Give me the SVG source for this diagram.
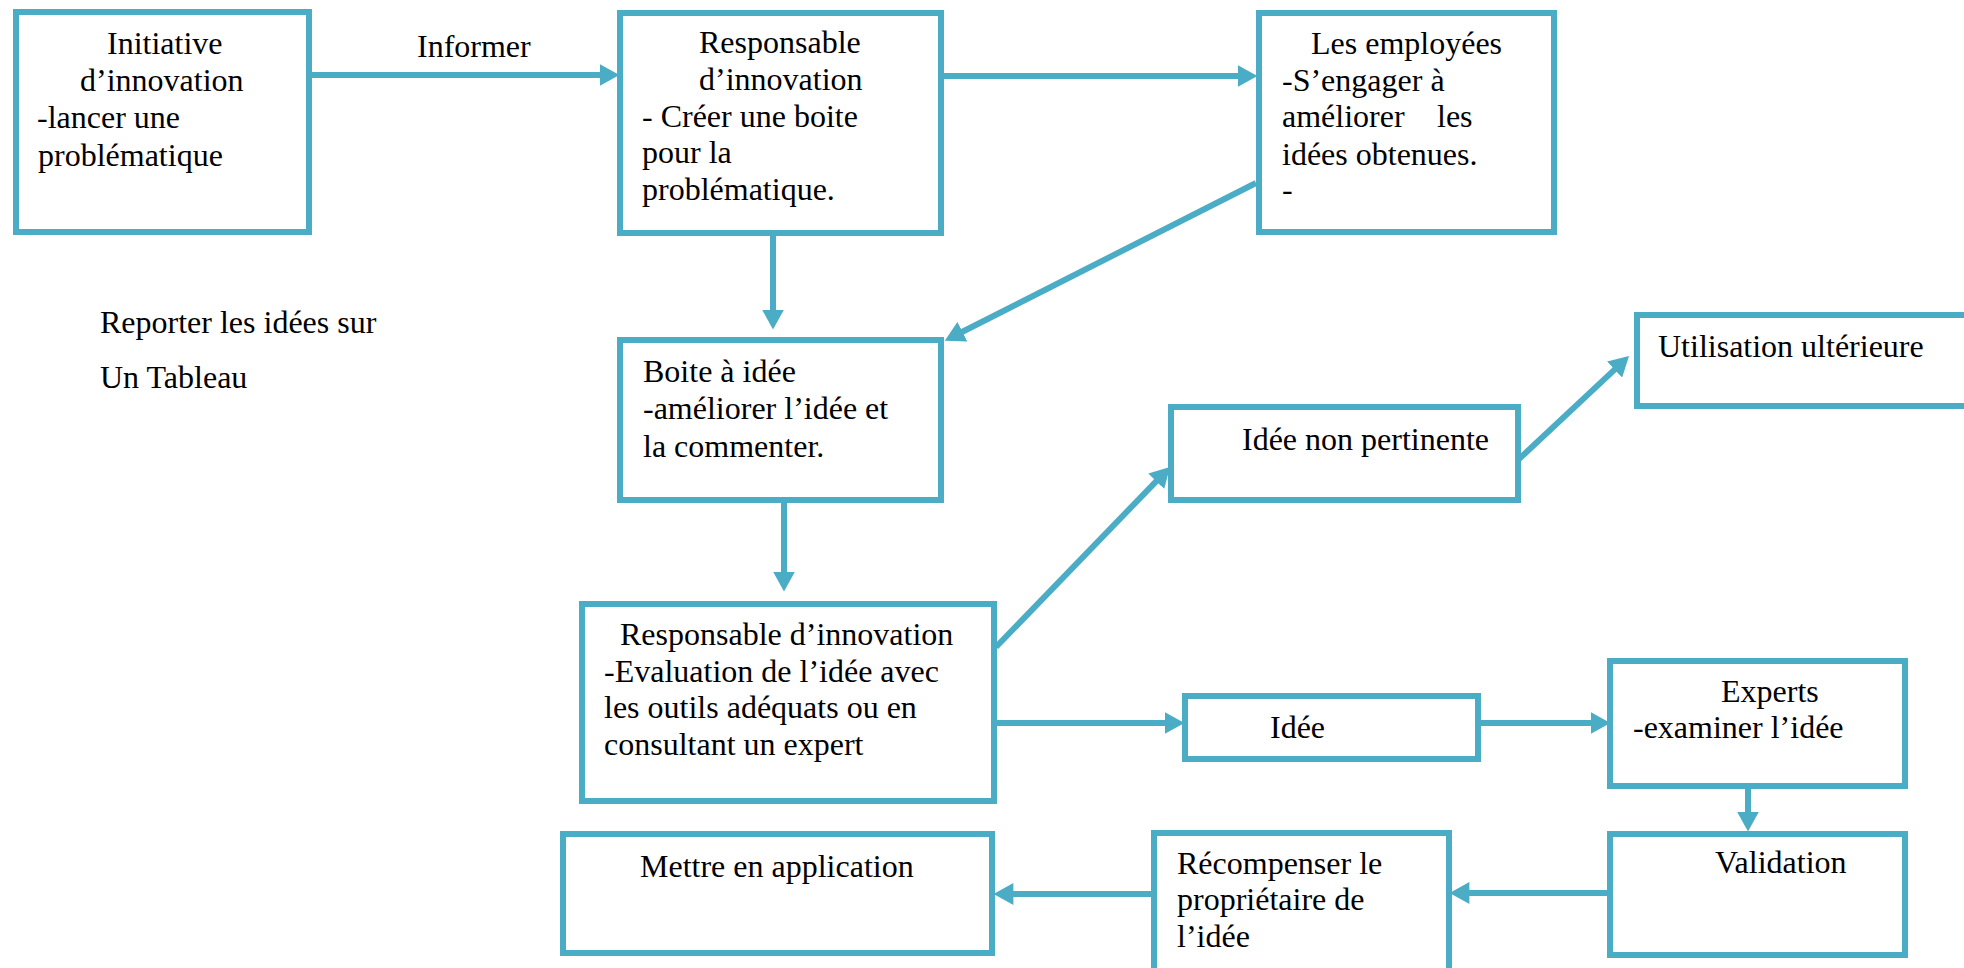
<svg xmlns="http://www.w3.org/2000/svg" width="1964" height="968" viewBox="0 0 1964 968">
  <style>
    .box { fill: #ffffff; stroke: #4BACC6; stroke-width: 6; }
    .edge { fill: none; stroke: #4BACC6; stroke-width: 6; marker-end: url(#head); }
    text { font-family: "Liberation Serif", "Times New Roman", serif; font-size: 32px; fill: #000000; }
  </style>
  <defs>
    <marker id="head" markerUnits="userSpaceOnUse" markerWidth="20" markerHeight="22" viewBox="0 0 18 20" refX="4" refY="10" orient="auto">
      <path d="M0,0 L18,10 L0,20 Z" fill="#4BACC6"/>
    </marker>
  </defs>
  <rect width="1964" height="968" fill="#ffffff"/>

  <!-- connectors -->
  <g id="connectors">
    <line class="edge" x1="310" y1="75" x2="604" y2="75"/>
    <line class="edge" x1="941" y1="76" x2="1242" y2="76"/>
    <line class="edge" x1="773" y1="233" x2="773" y2="314"/>
    <line class="edge" x1="1256" y1="183" x2="958.5" y2="333.7"/>
    <line class="edge" x1="784" y1="500" x2="784" y2="576"/>
    <line class="edge" x1="996" y1="647" x2="1159.3" y2="478.1"/>
    <line class="edge" x1="1518" y1="460" x2="1617.8" y2="366.6"/>
    <line class="edge" x1="994" y1="723" x2="1169" y2="723"/>
    <line class="edge" x1="1478" y1="723" x2="1595" y2="723"/>
    <line class="edge" x1="1748" y1="786" x2="1748" y2="816"/>
    <line class="edge" x1="1610" y1="893" x2="1465" y2="893"/>
    <line class="edge" x1="1154" y1="894" x2="1009" y2="894"/>
    <text x="417" y="57">Informer</text>
  </g>

  <g id="initiative">
    <rect class="box" x="16" y="12" width="293" height="220"/>
    <text x="107" y="54">Initiative</text>
    <text x="80" y="91">d’innovation</text>
    <text x="37" y="128">-lancer une</text>
    <text x="38" y="166">problématique</text>
  </g>

  <g id="responsable">
    <rect class="box" x="620" y="13" width="321" height="220"/>
    <text x="699" y="53">Responsable</text>
    <text x="699" y="90">d’innovation</text>
    <text x="642" y="127">- Créer une boite</text>
    <text x="642" y="163">pour la</text>
    <text x="642" y="200">problématique.</text>
  </g>

  <g id="employees">
    <rect class="box" x="1259" y="13" width="295" height="219"/>
    <text x="1311" y="54">Les employées</text>
    <text x="1282" y="91">-S’engager à</text>
    <text x="1282" y="127">améliorer</text>
    <text x="1437" y="127">les</text>
    <text x="1282" y="165">idées obtenues.</text>
    <text x="1282" y="200">-</text>
  </g>

  <g id="tableau">
    <text x="100" y="333">Reporter les idées sur</text>
    <text x="100" y="388">Un Tableau</text>
  </g>

  <g id="boite">
    <rect class="box" x="620" y="340" width="321" height="160"/>
    <text x="643" y="382">Boite à idée</text>
    <text x="643" y="419">-améliorer l’idée et</text>
    <text x="643" y="457">la commenter.</text>
  </g>

  <g id="evaluation">
    <rect class="box" x="582" y="604" width="412" height="197"/>
    <text x="620" y="645">Responsable d’innovation</text>
    <text x="604" y="682">-Evaluation de l’idée avec</text>
    <text x="604" y="718">les outils adéquats ou en</text>
    <text x="604" y="755">consultant un expert</text>
  </g>

  <g id="non-pertinente">
    <rect class="box" x="1171" y="407" width="347" height="93"/>
    <text x="1242" y="450">Idée non pertinente</text>
  </g>

  <g id="utilisation">
    <rect class="box" x="1637" y="315" width="340" height="91"/>
    <text x="1658" y="357">Utilisation ultérieure</text>
  </g>

  <g id="idee">
    <rect class="box" x="1185" y="696" width="293" height="63"/>
    <text x="1270" y="738">Idée</text>
  </g>

  <g id="experts">
    <rect class="box" x="1610" y="661" width="295" height="125"/>
    <text x="1721" y="702">Experts</text>
    <text x="1633" y="738">-examiner l’idée</text>
  </g>

  <g id="validation">
    <rect class="box" x="1610" y="834" width="295" height="121"/>
    <text x="1715" y="873">Validation</text>
  </g>

  <g id="recompense">
    <rect class="box" x="1154" y="833" width="295" height="150"/>
    <text x="1177" y="874">Récompenser le</text>
    <text x="1177" y="910">propriétaire de</text>
    <text x="1177" y="947">l’idée</text>
  </g>

  <g id="application">
    <rect class="box" x="563" y="834" width="429" height="119"/>
    <text x="640" y="877">Mettre en application</text>
  </g>
</svg>
